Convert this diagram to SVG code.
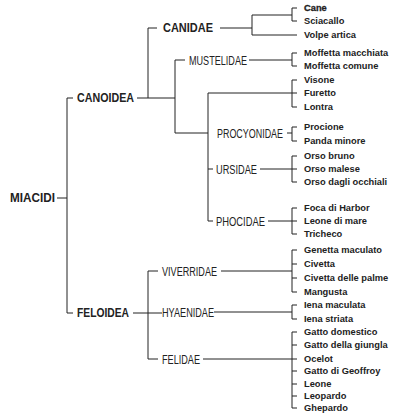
<svg xmlns="http://www.w3.org/2000/svg" width="420" height="420" viewBox="0 0 420 420">
<style>
.bg{fill:#fff}
.c path{fill:none;stroke:#222;stroke-width:1}
.h{font-family:"Liberation Sans",Arial,sans-serif;font-weight:bold;font-size:12px;fill:#222}
.f{font-family:"Liberation Sans",Arial,sans-serif;font-size:12.5px;fill:#222}
.s{font-family:"Liberation Sans",Arial,sans-serif;font-weight:bold;font-size:9.3px;fill:#222}
</style>
<rect class="bg" width="420" height="420"/>
<g class="c" id="connectors">
<path d="M57,198H67M67,98V313M67,98H73M67,313H73"/>
<path d="M137,98H175M148,28V98M148,28H157M175,60V133M175,60H185M175,133H208"/>
<path d="M220,28H252M252,15V35M252,15H292M292,8V21M292,8H297M292,21H297M252,35H297"/>
<path d="M249,60H292M292,53V66M292,53H297M292,66H297"/>
<path d="M208,93V221M208,93H297M292,80V107M292,80H297M292,107H297"/>
<path d="M287,133H292M292,127V141M292,127H297M292,141H297"/>
<path d="M208,169H213M260,169H297M292,156V182M292,156H297M292,182H297"/>
<path d="M208,221H213M268,221H297M292,208V234M292,208H297M292,234H297"/>
<path d="M133,313H162M148,271V359M148,271H158M148,359H158"/>
<path d="M221,271H292M292,250V292M292,250H297M292,264H297M292,278H297M292,292H297"/>
<path d="M214,312H292M292,305V319M292,305H297M292,319H297"/>
<path d="M203,359H297M292,332V408M292,332H297M292,345H297M292,371H297M292,384H297M292,396H297M292,408H297"/>
</g>
<g id="miacidi"><text class="h" x="10" y="202.3" textLength="45" lengthAdjust="spacingAndGlyphs">MIACIDI</text></g>
<g id="canoidea"><text class="h" x="77" y="102.3" textLength="57" lengthAdjust="spacingAndGlyphs">CANOIDEA</text></g>
<g id="canidae"><text class="h" x="163" y="32.3" textLength="50" lengthAdjust="spacingAndGlyphs">CANIDAE</text></g>
<g id="feloidea"><text class="h" x="77" y="317.3" textLength="52" lengthAdjust="spacingAndGlyphs">FELOIDEA</text></g>
<g id="mustelidae"><text class="f" x="189" y="64.5" textLength="58" lengthAdjust="spacingAndGlyphs">MUSTELIDAE</text></g>
<g id="procyonidae"><text class="f" x="217" y="137.5" textLength="66" lengthAdjust="spacingAndGlyphs">PROCYONIDAE</text></g>
<g id="ursidae"><text class="f" x="216" y="173.5" textLength="41" lengthAdjust="spacingAndGlyphs">URSIDAE</text></g>
<g id="phocidae"><text class="f" x="216" y="225.5" textLength="49" lengthAdjust="spacingAndGlyphs">PHOCIDAE</text></g>
<g id="viverridae"><text class="f" x="162" y="275.5" textLength="55" lengthAdjust="spacingAndGlyphs">VIVERRIDAE</text></g>
<g id="hyaenidae"><text class="f" x="162" y="316.5" textLength="52" lengthAdjust="spacingAndGlyphs">HYAENIDAE</text></g>
<g id="felidae"><text class="f" x="162" y="363.5" textLength="38" lengthAdjust="spacingAndGlyphs">FELIDAE</text></g>
<g id="species">
<text class="s" x="304" y="11.4" style="stroke:#222;stroke-width:0.3">Cane</text>
<text class="s" x="304" y="24.4">Sciacallo</text>
<text class="s" x="304" y="38.4">Volpe artica</text>
<text class="s" x="304" y="56.4">Moffetta macchiata</text>
<text class="s" x="304" y="69.4">Moffetta comune</text>
<text class="s" x="304" y="83.4">Visone</text>
<text class="s" x="304" y="96.4">Furetto</text>
<text class="s" x="304" y="110.4">Lontra</text>
<text class="s" x="304" y="130.4">Procione</text>
<text class="s" x="304" y="144.4">Panda minore</text>
<text class="s" x="304" y="159.4">Orso bruno</text>
<text class="s" x="304" y="172.4">Orso malese</text>
<text class="s" x="304" y="185.4">Orso dagli occhiali</text>
<text class="s" x="304" y="211.4">Foca di Harbor</text>
<text class="s" x="304" y="224.4">Leone di mare</text>
<text class="s" x="304" y="237.4">Tricheco</text>
<text class="s" x="304" y="253.4">Genetta maculato</text>
<text class="s" x="304" y="267.4">Civetta</text>
<text class="s" x="304" y="281.4">Civetta delle palme</text>
<text class="s" x="304" y="295.4">Mangusta</text>
<text class="s" x="304" y="308.4">Iena maculata</text>
<text class="s" x="304" y="322.4">Iena striata</text>
<text class="s" x="304" y="335.4">Gatto domestico</text>
<text class="s" x="304" y="348.4">Gatto della giungla</text>
<text class="s" x="304" y="362.4">Ocelot</text>
<text class="s" x="304" y="374.4">Gatto di Geoffroy</text>
<text class="s" x="304" y="387.4">Leone</text>
<text class="s" x="304" y="399.4">Leopardo</text>
<text class="s" x="304" y="411.4">Ghepardo</text>
</g>
</svg>
